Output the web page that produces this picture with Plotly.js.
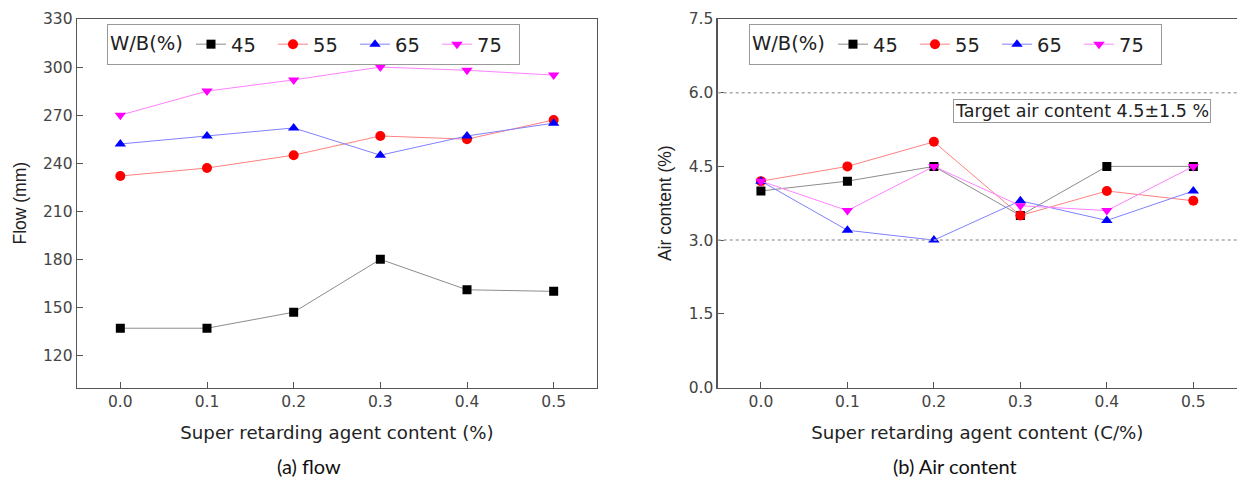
<!DOCTYPE html>
<html>
<head>
<meta charset="utf-8">
<script src="https://cdn.plot.ly/plotly-3.0.1.min.js"></script>
<style>html,body{margin:0;padding:0;background:#fff;}#chart{width:1237px;height:482px;}</style>
</head>
<body>
<div id="chart"></div>
<script>
// ---- data ----
const content = [0.0, 0.1, 0.2, 0.3, 0.4, 0.5];
const wbLabels = ["45", "55", "65", "75"];
const flow45 = [137, 137, 147, 180, 161, 160];
const flow55 = [232, 237, 245, 257, 255, 267];
const flow65 = [252, 257, 262, 245, 257, 265];
const flow75 = [270, 285, 292, 300, 298, 295];
const air45 = [4.0, 4.2, 4.5, 3.5, 4.5, 4.5];
const air55 = [4.2, 4.5, 5.0, 3.5, 4.0, 3.8];
const air65 = [4.2, 3.2, 3.0, 3.8, 3.4, 4.0];
const air75 = [4.2, 3.6, 4.5, 3.7, 3.6, 4.5];
const targetLow = 3.0, targetHigh = 6.0;

// ---- styles ----
const markerColors = ["#000000", "#ff0000", "#0000ff", "#ff00ff"];
const lineColors = ["#8c8c8c", "#ff8080", "#8080ff", "#ff80ff"];
const symbols = ["square", "circle", "triangle-up", "triangle-down"];
const sizes = [9, 10, 10, 10];
const WIDE = "DejaVu Sans, sans-serif";
const NARROW = "Liberation Sans, Arial, sans-serif";

function mk(x, y, i, xa, ya, leg) {
  return {
    x: x, y: y, type: "scatter", mode: "lines+markers",
    name: wbLabels[i], xaxis: xa, yaxis: ya, legend: leg, showlegend: true,
    line: {color: lineColors[i], width: 1},
    marker: {color: markerColors[i], symbol: symbols[i], size: sizes[i]}
  };
}
const flowSeries = [flow45, flow55, flow65, flow75];
const airSeries = [air45, air55, air65, air75];
const traces = [];
flowSeries.forEach((s, i) => traces.push(mk(content, s, i, "x", "y", "legend")));
airSeries.forEach((s, i) => traces.push(mk(content, s, i, "x2", "y2", "legend2")));

const W = 1237, H = 482;
const yDom = [1 - 387.5 / H, 1 - 19 / H];
const axCommon = {
  showgrid: false, zeroline: false, showline: true, linecolor: "#555", linewidth: 1.3,
  ticks: "inside", ticklen: 6, tickcolor: "#555", tickwidth: 1,
  tickfont: {family: WIDE, size: 15.5, color: "#444"}
};
const xTitleFont = {family: WIDE, size: 18.2, color: "#222"};
const yTitleFont = {family: NARROW, size: 17.5, color: "#222"};
const legCommon = {
  orientation: "h", xanchor: "left", yanchor: "top",
  bgcolor: "#fff", bordercolor: "#999", borderwidth: 1,
  font: {family: WIDE, size: 19.5, color: "#222"},
  title: {text: "W/B(%)", side: "left", font: {family: WIDE, size: 19.5, color: "#222"}},
  itemwidth: 30, tracegroupgap: 0, entrywidth: 37, entrywidthmode: "pixels"
};

const layout = {
  width: W, height: H,
  margin: {l: 0, r: 0, t: 0, b: 0},
  paper_bgcolor: "#fff", plot_bgcolor: "#fff",
  showlegend: true,
  xaxis: Object.assign({}, axCommon, {
    domain: [77 / W, 597 / W], range: [-0.05, 0.55], anchor: "y",
    tickvals: content, tickformat: ".1f", mirror: true,
    title: {text: "Super retarding agent content (%)", font: xTitleFont, standoff: 16}
  }),
  yaxis: Object.assign({}, axCommon, {
    domain: yDom, range: [100, 330], anchor: "x",
    tick0: 120, dtick: 30, mirror: true,
    title: {text: "Flow (mm)", font: yTitleFont, standoff: 12}
  }),
  xaxis2: Object.assign({}, axCommon, {
    domain: [717.7 / W, 1], range: [-0.05, 0.5505], anchor: "y2",
    tickvals: content, tickformat: ".1f", mirror: true,
    title: {text: "Super retarding agent content (C/%)", font: xTitleFont, standoff: 16}
  }),
  yaxis2: Object.assign({}, axCommon, {
    domain: yDom, range: [0, 7.5], anchor: "x2",
    tick0: 0, dtick: 1.5, tickformat: ".1f", mirror: false,
    title: {text: "Air content (%)", font: yTitleFont, standoff: 12}
  }),
  legend: Object.assign({}, legCommon, {x: 107 / W, y: 1 - 24 / H}),
  legend2: Object.assign({}, legCommon, {x: 749 / W, y: 1 - 24 / H}),
  shapes: [targetLow, targetHigh].map(v => ({
    type: "line", xref: "x2 domain", yref: "y2", x0: 0, x1: 1, y0: v, y1: v,
    line: {color: "#aaa", width: 1.5, dash: "dot"}
  })),
  annotations: [
    {text: "Target air content 4.5±1.5 %", xref: "paper", yref: "paper",
     x: 1082 / W, y: 1 - 111 / H, xanchor: "center", yanchor: "middle", showarrow: false,
     font: {family: WIDE, size: 17.5, color: "#222"}, bgcolor: "#fff", bordercolor: "#999", borderwidth: 1, borderpad: 1},
    {text: "(a) flow", xref: "paper", yref: "paper", x: 309 / W, y: 1 - 466 / H,
     xanchor: "center", yanchor: "middle", showarrow: false,
     font: {family: "Lato, sans-serif", size: 20, color: "#111"}},
    {text: "(b) Air content", xref: "paper", yref: "paper", x: 955 / W, y: 1 - 466 / H,
     xanchor: "center", yanchor: "middle", showarrow: false,
     font: {family: "Lato, sans-serif", size: 20, color: "#111"}}
  ]
};

Plotly.newPlot("chart", traces, layout, {staticPlot: true, displayModeBar: false});
</script>
</body>
</html>
